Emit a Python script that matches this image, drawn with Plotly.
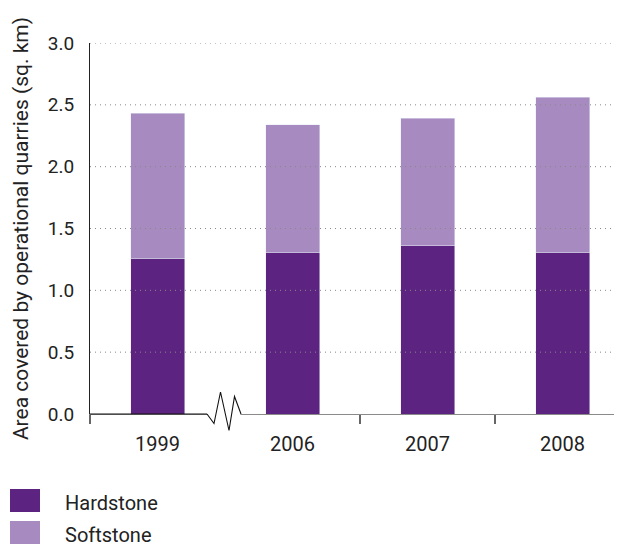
import plotly.graph_objects as go

# data
years = ["1999", "2006", "2007", "2008"]
hardstone = [1.26, 1.31, 1.36, 1.31]
softstone = [1.17, 1.03, 1.03, 1.25]
y_ticks = [0.0, 0.5, 1.0, 1.5, 2.0, 2.5, 3.0]
legend_names = ["Hardstone", "Softstone"]

dark = "#5C2480"
light = "#A78BC0"
font = "Roboto"

# page body has an 8px margin, so figure pixels = page pixels - 8
OFF = 8
W, H = 622, 544
ml, mr, mt, mb = 90 - OFF, 0, 43 - OFF, H - (414 - OFF)
pw, ph = W - ml - mr, H - mt - mb


# page pixel -> paper helpers for the decorations
def px(x):
    return (x - OFF - ml) / pw


def py(y):
    return (H - mb - (y - OFF)) / ph


fig = go.Figure()
fig.add_trace(go.Bar(x=years, y=hardstone, name=legend_names[0], marker_color=dark, width=0.4))
fig.add_trace(go.Bar(x=years, y=softstone, name=legend_names[1], marker_color=light, width=0.4))

fig.update_layout(
    barmode="stack",
    width=W,
    height=H,
    margin=dict(l=ml, r=mr, t=mt, b=mb),
    plot_bgcolor="white",
    paper_bgcolor="white",
    showlegend=False,
    font=dict(family=font, size=17, color="#222"),
)
fig.update_xaxes(
    range=[-0.5, 3.5],
    showline=True, linecolor="#8a8a8a", linewidth=1.2,
    ticks="outside", tickson="boundaries", ticklen=9, tickcolor="#666", tickwidth=1.5,
    showgrid=False,
    tickfont=dict(size=20),
    ticklabelstandoff=12,
)
fig.update_yaxes(
    range=[0, 3],
    tickvals=y_ticks, ticktext=[f"{v:.1f}" for v in y_ticks],
    showline=True, linecolor="#222", linewidth=1.2,
    showgrid=False, zeroline=False,
    tickfont=dict(size=19),
    ticklabelstandoff=11,
    title=dict(text="Area covered by operational quarries (sq. km)", font=dict(size=21), standoff=13),
)

# dotted gridlines sit on top of the bars
for v in y_ticks[1:]:
    fig.add_shape(type="line", xref="paper", yref="y", x0=0, x1=1, y0=v, y1=v,
                  line=dict(color="#888", width=1, dash="1px,4px"), layer="above")

# axis break between 1999 and 2006
fig.add_shape(type="line", xref="x", yref="paper", xsizemode="pixel", xanchor=0.5,
              x0=-135, x1=-18, y0=0, y1=0, line=dict(color="#111", width=1.2), layer="above")
fig.add_shape(type="rect", xref="x", yref="paper", xsizemode="pixel", xanchor=0.5,
              ysizemode="pixel", yanchor=0, x0=-17.5, x1=15.5, y0=1.5, y1=-13,
              fillcolor="white", line=dict(width=0), layer="above")
fig.add_shape(type="path", xref="x", yref="paper", xsizemode="pixel", xanchor=0.5,
              ysizemode="pixel", yanchor=0,
              path="M-18,0 L-11,-9.5 L-4.5,22 L4,-16.5 L9.5,17.5 L16,0",
              line=dict(color="#111", width=1.1), layer="above")

# legend with large swatches
for i, (name, col) in enumerate(zip(legend_names, [dark, light])):
    top = 489 + 32 * i
    fig.add_shape(type="rect", xref="paper", yref="paper",
                  x0=px(10), x1=px(40), y0=py(top), y1=py(top + 23),
                  fillcolor=col, line=dict(width=0))
    fig.add_annotation(xref="paper", yref="paper", x=px(63), y=py(top + 14),
                       text=name, showarrow=False, xanchor="left", yanchor="middle",
                       font=dict(size=20, color="#222"))

fig.write_html("out.html")
